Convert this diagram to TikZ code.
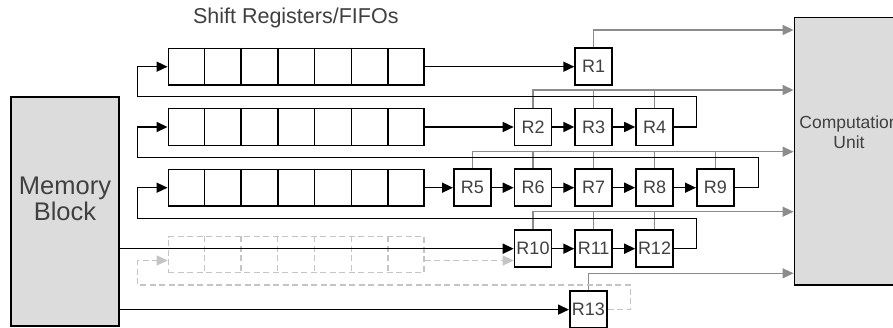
\documentclass[tikz,border=0pt]{standalone}
\usepackage{fontspec}
\setmainfont{Liberation Sans}
\usetikzlibrary{arrows.meta,calc}

\definecolor{blockgray}{HTML}{DCDCDC}
\definecolor{busgray}{HTML}{8C8C8C}
\definecolor{dashgray}{HTML}{C4C4C4}
\definecolor{textgray}{HTML}{404040}

\begin{document}
\begin{tikzpicture}[
  x=1pt, y=-1pt,
  font=\fontsize{18}{20}\selectfont,
  text=textgray,
  regbox/.style={draw=black, line width=1.6pt, fill=white, minimum width=37pt, minimum height=37pt, inner sep=0pt},
  fifobox/.style={draw=black, line width=1.6pt, fill=white, minimum width=255.7pt, minimum height=36.7pt, inner sep=0pt},
  ghostbox/.style={draw=dashgray, line width=1.3pt, dash pattern=on 6pt off 3.5pt, minimum width=255.7pt, minimum height=36pt, inner sep=0pt},
  bigblock/.style={draw=black, line width=1.6pt, fill=blockgray, inner sep=0pt},
  feed/.style={draw=black, line width=1.5pt},
  bus/.style={draw=busgray, line width=1.4pt},
  ghost/.style={draw=dashgray, line width=1.3pt, dash pattern=on 6pt off 3.5pt},
  >={Triangle[length=11pt,width=10pt]}
]
  \useasboundingbox (0,0) rectangle (893,328);
  \clip (0,0) rectangle (893,328);

  % memory and computation blocks
  \node[bigblock, minimum width=108pt, minimum height=229pt] (mem) at (65,211.5) {};
  \node[font=\fontsize{25.5}{25.5}\selectfont, align=center] (memtxt) at (65,198.7) {Memory\\Block};
  \node[bigblock, minimum width=109.7pt, minimum height=267.7pt] (cu) at (849.2,151.2) {};
  \node[font=\fontsize{17.5}{19.5}\selectfont, align=center] (cutxt) at (849,132) {Computation\\Unit};

  \node[font=\fontsize{21.5}{24}\selectfont, anchor=base] (title) at (295.8,23.3) {Shift Registers/FIFOs};

  % shift registers
  \node[fifobox] (f1) at (296.2,66.7) {};
  \node[fifobox] (f2) at (296.2,127) {};
  \node[fifobox] (f3) at (296.2,187.7) {};
  \node[ghostbox] (f4) at (296.2,254.7) {};
  \foreach \f in {f1,f2,f3}
    \foreach \k in {1,...,6}
      \draw[line width=1.6pt] ($(\f.north west)!\k/7!(\f.north east)$) -- ($(\f.south west)!\k/7!(\f.south east)$);
  \foreach \k in {1,...,6}
    \draw[ghost] ($(f4.north west)!\k/7!(f4.north east)$) -- ($(f4.south west)!\k/7!(f4.south east)$);

  % registers
  \node[regbox] (r1) at (593.6,66.7) {R1};
  \node[regbox] (r2) at (533,127) {R2};
  \node[regbox] (r3) at (593.6,127) {R3};
  \node[regbox] (r4) at (654.5,127) {R4};
  \node[regbox] (r5) at (472.3,187.7) {R5};
  \node[regbox] (r6) at (533,187.7) {R6};
  \node[regbox] (r7) at (593.6,187.7) {R7};
  \node[regbox] (r8) at (654.5,187.7) {R8};
  \node[regbox] (r9) at (715.3,187.7) {R9};
  \node[regbox] (r10) at (533,248.7) {R10};
  \node[regbox] (r11) at (593.6,248.7) {R11};
  \node[regbox] (r12) at (654.5,248.7) {R12};
  \node[regbox] (r13) at (588.3,309.6) {R13};

  % outputs to the computation unit
  \draw[bus,->] (r1.north) |- (cu.west |- 0,30);
  \draw[bus,->] (r2.north) |- (cu.west |- 0,90);
  \foreach \r in {r3,r4} \draw[bus] (\r.north) -- (\r.north |- 0,90);
  \draw[bus,->] (r5.north) |- (cu.west |- 0,151.7);
  \foreach \r in {r6,r7,r8,r9} \draw[bus] (\r.north) -- (\r.north |- 0,151.7);
  \draw[bus,->] (r10.north) |- (cu.west |- 0,211.7);
  \foreach \r in {r11,r12} \draw[bus] (\r.north) -- (\r.north |- 0,211.7);
  \draw[bus,->] (r13.north) |- (cu.west |- 0,273.3);

  % unused path
  \draw[ghost,->] (r13.east) -| (630.7,285) -| (137.7,260.5) -- (f4.west |- 0,260.5);
  \draw[ghost,->] (f4.east |- 0,260.5) -- (r10.west |- 0,260.5);

  % data flow
  \draw[feed,->] (f1.east) -- (r1.west);
  \draw[feed,->] (f2.east) -- (r2.west);
  \draw[feed,->] (r2) -- (r3);
  \draw[feed,->] (r3) -- (r4);
  \draw[feed,->] (f3.east) -- (r5.west);
  \draw[feed,->] (r5) -- (r6);
  \draw[feed,->] (r6) -- (r7);
  \draw[feed,->] (r7) -- (r8);
  \draw[feed,->] (r8) -- (r9);
  \draw[feed,->] (mem.east |- r10.west) -- (r10.west);
  \draw[feed,->] (r10) -- (r11);
  \draw[feed,->] (r11) -- (r12);
  \draw[feed,->] (mem.east |- r13.west) -- (r13.west);

  % feedback loops
  \draw[feed,->] (r4.east) -| (696.7,96.7) -| (137.7,66.7) -- (f1.west);
  \draw[feed,->] (r9.east) -| (758.3,157.5) -| (137.7,127) -- (f2.west);
  \draw[feed,->] (r12.east) -| (696.7,218.3) -| (137.7,187.7) -- (f3.west);
\end{tikzpicture}
\end{document}
